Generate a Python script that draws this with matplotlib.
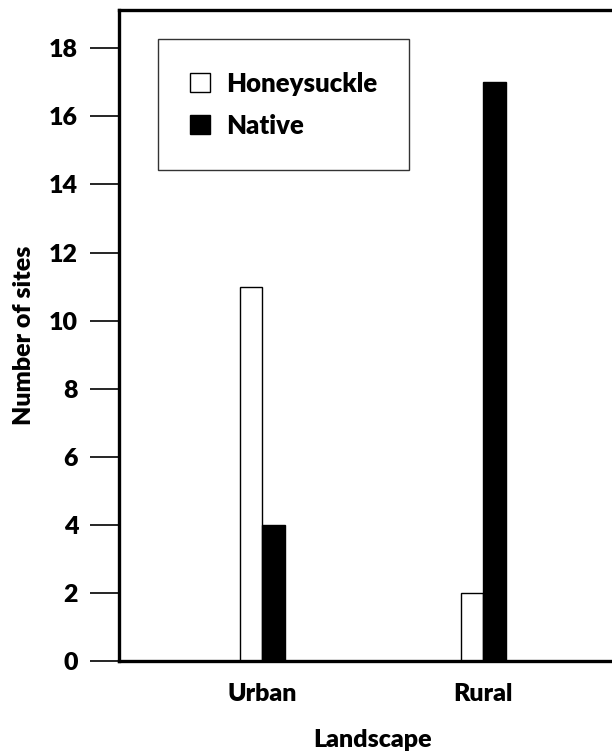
import numpy as np
import matplotlib
matplotlib.use('Agg')
import matplotlib.pyplot as plt

plt.rcParams['font.family'] = ['Lato', 'DejaVu Sans']
plt.rcParams['font.weight'] = 'heavy'
plt.rcParams['axes.labelweight'] = 'heavy'

landscapes = ['Urban', 'Rural']
honeysuckle = [11, 2]
native = [4, 17]
series_names = ['Honeysuckle', 'Native']
yticks = [0, 2, 4, 6, 8, 10, 12, 14, 16, 18]

W, H = 612, 756
fig = plt.figure(figsize=(W / 100, H / 100), dpi=100)
# axes runs past the right edge of the figure, like the original crop
left, right, top, bottom = 118.5, 627, 9.5, 661
ax = fig.add_axes([left / W, (H - bottom) / H, (right - left) / W, (bottom - top) / H])

x = np.arange(len(landscapes))
w = 0.102
ax.bar(x - w / 2, honeysuckle, w, color='white', edgecolor='black', linewidth=1.0,
       label=series_names[0])
ax.bar(x + w / 2, native, w, color='black', edgecolor='black', linewidth=1.0,
       label=series_names[1])

ax.set_xlim(-0.651, 1.65)
ax.set_ylim(0, 19.14)
ax.set_xticks(x)
ax.set_xticklabels(landscapes)
ax.set_yticks(yticks)

for s in ax.spines.values():
    s.set_linewidth(2.4)
ax.tick_params(axis='y', direction='out', length=21, width=1.2, pad=8, labelsize=18)
ax.tick_params(axis='x', length=0, pad=16, labelsize=18)

ax.set_xlabel('Landscape', fontsize=18, labelpad=17)
ax.set_ylabel('Number of sites', fontsize=18, labelpad=10)

leg = ax.legend(loc='upper left', bbox_to_anchor=(0.077, 0.954), fontsize=18.5,
                frameon=True, fancybox=False, borderpad=1.25, labelspacing=0.7,
                handlelength=0.8, handleheight=0.75, handletextpad=0.6,
                borderaxespad=0)
leg.get_frame().set_edgecolor('black')
leg.get_frame().set_linewidth(1.0)

plt.savefig('out.png', dpi=100)
